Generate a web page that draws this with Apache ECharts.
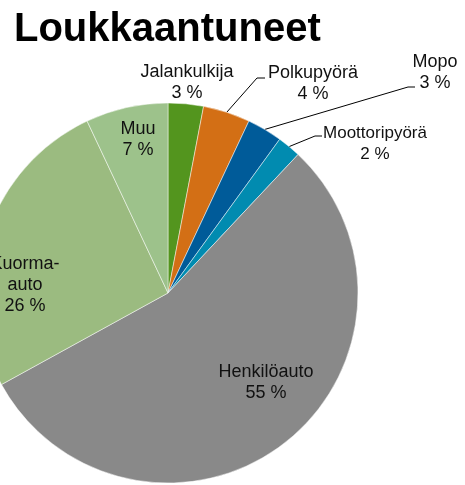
<!DOCTYPE html>
<html lang="fi">
<head>
<meta charset="utf-8">
<title>Loukkaantuneet</title>
<script src="https://cdn.jsdelivr.net/npm/echarts@6/dist/echarts.min.js"></script>
<style>
  html, body { margin: 0; padding: 0; background: #fff; }
  #chart { width: 465px; height: 485px; }
</style>
</head>
<body>
<div id="chart"></div>
<script>
// luokat ja osuudet (%)
var categories = ['Jalankulkija', 'Polkupyörä', 'Mopo', 'Moottoripyörä', 'Henkilöauto', 'Kuorma-auto', 'Muu'];
var values = [3, 4, 3, 2, 55, 26, 7];
var colors = ['#53951e', '#d36f15', '#005b99', '#018bb0', '#898989', '#9bbb80', '#9dc28b'];

// label placement (center of the text block) and leader kink / end points
var pieCenter = [168, 293];
var pieRadius = 190;
var labelPos = [
    { x: 187, y: 83, inside: false },
    { x: 313, y: 84, inside: false, kink: [257, 78], end: [265, 78] },
    { x: 435, y: 73, inside: false, kink: [408, 87], end: [415, 87] },
    { x: 375, y: 144, inside: false, kink: [315, 136], end: [322, 136], size: 17 },
    { x: 266, y: 383, inside: true },
    { x: 25, y: 285, inside: true },
    { x: 138, y: 140, inside: true }
];

var total = values.reduce(function (a, b) { return a + b; }, 0);

function edgePoint(i) {
    var before = 0;
    for (var k = 0; k < i; k++) before += values[k];
    var ang = (before + values[i] / 2) / total * Math.PI * 2;
    return [pieCenter[0] + pieRadius * Math.sin(ang), pieCenter[1] - pieRadius * Math.cos(ang)];
}

var seriesData = categories.map(function (name, i) {
    var p = labelPos[i];
    return {
        name: name,
        value: values[i],
        itemStyle: { color: colors[i] },
        label: {
            position: p.inside ? 'inside' : 'outside',
            fontSize: p.size || 18
        },
        labelLine: { show: !!p.kink }
    };
});

var myChart = echarts.init(document.getElementById('chart'));
var option = {
    animation: false,
    title: {
        text: 'Loukkaantuneet',
        left: 14,
        top: 10,
        padding: 0,
        textStyle: {
            fontFamily: '"Liberation Sans", Arial, sans-serif',
            fontSize: 40,
            fontWeight: 'bold',
            color: '#000'
        }
    },
    series: [{
        type: 'pie',
        center: pieCenter,
        radius: pieRadius,
        startAngle: 90,
        clockwise: true,
        data: seriesData,
        itemStyle: {
            borderColor: 'rgba(255,255,255,0.6)',
            borderWidth: 0.8
        },
        label: {
            color: '#111',
            fontFamily: '"Liberation Sans", Arial, sans-serif',
            fontSize: 18,
            lineHeight: 21,
            align: 'center',
            overflow: 'none',
            bleedMargin: 0,
            formatter: function (p) {
                return p.name.replace('-', '-\n') + '\n' + p.value + ' %';
            }
        },
        labelLine: {
            lineStyle: { color: '#000', width: 1 },
            smooth: false
        },
        labelLayout: function (params) {
            var p = labelPos[params.dataIndex];
            var res = { x: p.x, y: p.y, align: 'center', verticalAlign: 'middle' };
            if (p.kink) {
                res.labelLinePoints = [edgePoint(params.dataIndex), p.kink, p.end];
            }
            return res;
        }
    }]
};
myChart.setOption(option);
</script>
</body>
</html>
